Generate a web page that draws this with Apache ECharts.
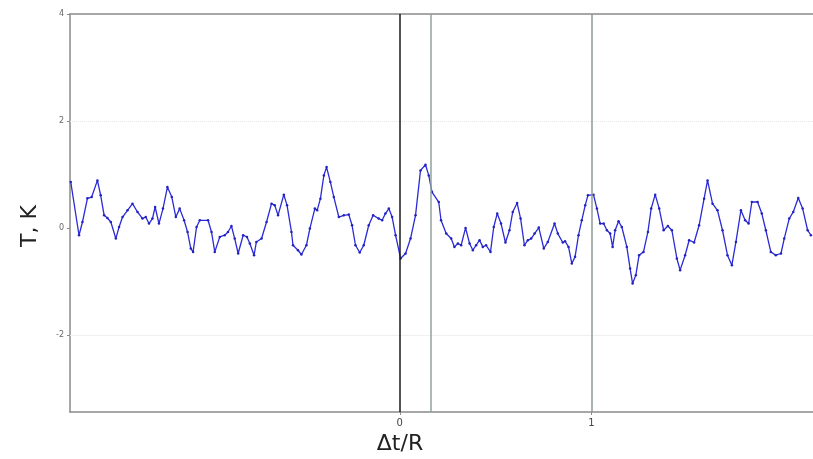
<!DOCTYPE html>
<html>
<head>
<meta charset="utf-8">
<script src="https://cdn.jsdelivr.net/npm/echarts@6/dist/echarts.min.js"></script>
<style>html,body{margin:0;padding:0;background:#fff}#c{width:813px;height:459px}</style>
</head>
<body>
<div id="c"></div>
<script>
const dtR = [-1.716,-1.673,-1.655,-1.629,-1.607,-1.577,-1.560,-1.542,-1.525,-1.507,-1.481,-1.464,-1.446,-1.420,-1.394,-1.368,-1.342,-1.325,-1.308,-1.290,-1.276,-1.256,-1.235,-1.212,-1.189,-1.168,-1.148,-1.125,-1.107,-1.090,-1.078,-1.060,-1.043,-1.000,-0.982,-0.965,-0.939,-0.913,-0.896,-0.878,-0.861,-0.843,-0.817,-0.797,-0.782,-0.760,-0.748,-0.721,-0.695,-0.669,-0.652,-0.635,-0.605,-0.588,-0.565,-0.557,-0.531,-0.513,-0.487,-0.469,-0.443,-0.431,-0.414,-0.396,-0.382,-0.362,-0.344,-0.318,-0.292,-0.266,-0.249,-0.231,-0.209,-0.188,-0.162,-0.139,-0.110,-0.092,-0.075,-0.057,-0.040,-0.022,0.004,0.030,0.056,0.082,0.108,0.134,0.151,0.168,0.203,0.215,0.242,0.268,0.285,0.303,0.320,0.343,0.364,0.381,0.398,0.416,0.433,0.450,0.473,0.490,0.508,0.528,0.551,0.572,0.589,0.612,0.630,0.650,0.668,0.685,0.703,0.725,0.751,0.772,0.807,0.824,0.850,0.862,0.880,0.897,0.914,0.932,0.949,0.967,0.981,1.010,1.028,1.045,1.063,1.080,1.097,1.110,1.123,1.141,1.158,1.184,1.201,1.214,1.231,1.248,1.271,1.294,1.311,1.332,1.353,1.376,1.398,1.419,1.445,1.462,1.488,1.509,1.535,1.561,1.587,1.605,1.631,1.657,1.683,1.709,1.732,1.753,1.779,1.801,1.819,1.836,1.866,1.888,1.909,1.935,1.961,1.988,2.005,2.031,2.052,2.078,2.101,2.127,2.144];
const tempK = [0.862,-0.130,0.117,0.559,0.583,0.894,0.615,0.242,0.192,0.117,-0.192,0.024,0.210,0.335,0.460,0.304,0.181,0.210,0.088,0.181,0.397,0.088,0.367,0.769,0.583,0.210,0.367,0.149,-0.069,-0.378,-0.441,0.024,0.149,0.149,-0.069,-0.441,-0.162,-0.130,-0.069,0.043,-0.192,-0.471,-0.130,-0.162,-0.285,-0.503,-0.255,-0.192,0.117,0.460,0.428,0.242,0.628,0.428,-0.069,-0.317,-0.410,-0.490,-0.317,-0.006,0.367,0.335,0.553,0.987,1.142,0.862,0.583,0.210,0.242,0.255,0.056,-0.317,-0.453,-0.317,0.056,0.242,0.181,0.149,0.274,0.367,0.210,-0.130,-0.564,-0.471,-0.192,0.242,1.080,1.186,0.987,0.676,0.490,0.149,-0.099,-0.192,-0.348,-0.285,-0.317,0.006,-0.285,-0.410,-0.317,-0.223,-0.348,-0.317,-0.441,0.024,0.274,0.088,-0.266,-0.037,0.304,0.471,0.181,-0.317,-0.223,-0.192,-0.099,0.013,-0.378,-0.255,0.088,-0.099,-0.266,-0.242,-0.348,-0.657,-0.534,-0.130,0.149,0.428,0.615,0.628,0.367,0.088,0.088,-0.037,-0.099,-0.348,-0.037,0.130,0.024,-0.348,-0.750,-1.030,-0.875,-0.503,-0.441,-0.069,0.367,0.628,0.367,-0.037,0.043,-0.037,-0.564,-0.782,-0.503,-0.223,-0.266,0.056,0.553,0.894,0.460,0.335,-0.037,-0.503,-0.689,-0.255,0.335,0.149,0.088,0.490,0.490,0.274,-0.037,-0.441,-0.503,-0.471,-0.192,0.181,0.304,0.564,0.367,-0.037,-0.130];
const xTicks = [0, 1];
const yTicks = [-2, 0, 2, 4];
const vLinesGray = [0.16, 1.0];
const vLineBlack = 0;

const chart = echarts.init(document.getElementById('c'));
const pts = dtR.map((x, i) => [x, tempK[i]]);
chart.setOption({
  animation: false,
  backgroundColor: '#fff',
  grid: {left: 70, right: 0, top: 14, bottom: 47},
  xAxis: [{
    type: 'value', min: -1.72, max: 2.155,
    axisLine: {show: true, onZero: false, lineStyle: {color: '#8a8a8a', width: 1.5}},
    axisTick: {show: true, customValues: xTicks, length: 3, lineStyle: {color: '#8a8a8a'}},
    axisLabel: {customValues: xTicks, color: '#444', fontSize: 10, fontFamily: 'DejaVu Sans', margin: 6},
    splitLine: {show: false}
  }, {
    type: 'value', position: 'top', min: -1.72, max: 2.155,
    axisLine: {show: true, onZero: false, lineStyle: {color: '#8a8a8a', width: 1.5}},
    axisTick: {show: false}, axisLabel: {show: false}, splitLine: {show: false}
  }],
  yAxis: {
    type: 'value', min: -3.43, max: 4,
    axisLine: {show: true, onZero: false, lineStyle: {color: '#8a8a8a', width: 1.5}},
    axisTick: {show: true, customValues: yTicks, length: 3, lineStyle: {color: '#8a8a8a'}},
    axisLabel: {customValues: yTicks, color: '#666', fontSize: 8, fontFamily: 'DejaVu Sans', margin: 6},
    splitLine: {show: false}
  },
  graphic: [
    {type: 'text', x: 30, y: 226, rotation: Math.PI / 2,
     style: {text: 'T, K', fontSize: 22, fontFamily: 'DejaVu Sans', fill: '#222', align: 'center', verticalAlign: 'middle'}},
    {type: 'text', x: 400, y: 444,
     style: {text: 'Δt/R', fontSize: 22, fontFamily: 'DejaVu Sans', fill: '#222', align: 'center', verticalAlign: 'middle'}}
  ],
  series: [{
    type: 'line',
    data: pts,
    showSymbol: true,
    symbol: 'circle',
    symbolSize: 2.5,
    lineStyle: {color: '#2a2ad6', width: 1.3},
    itemStyle: {color: '#2222c0'},
    markLine: {
      silent: true, symbol: 'none', label: {show: false},
      data: [
        {yAxis: 2, lineStyle: {color: '#e6e6e6', width: 1, type: 'dotted'}},
        {yAxis: -2, lineStyle: {color: '#f0f0f0', width: 1, type: 'solid'}},
        {xAxis: vLinesGray[0], lineStyle: {color: '#8fa39c', width: 1.5, type: 'solid'}},
        {xAxis: vLinesGray[1], lineStyle: {color: '#8f9a96', width: 1.5, type: 'solid'}},
        {xAxis: vLineBlack, lineStyle: {color: '#1a1a1a', width: 1.5, type: 'solid'}}
      ]
    }
  }]
});
</script>
</body>
</html>
